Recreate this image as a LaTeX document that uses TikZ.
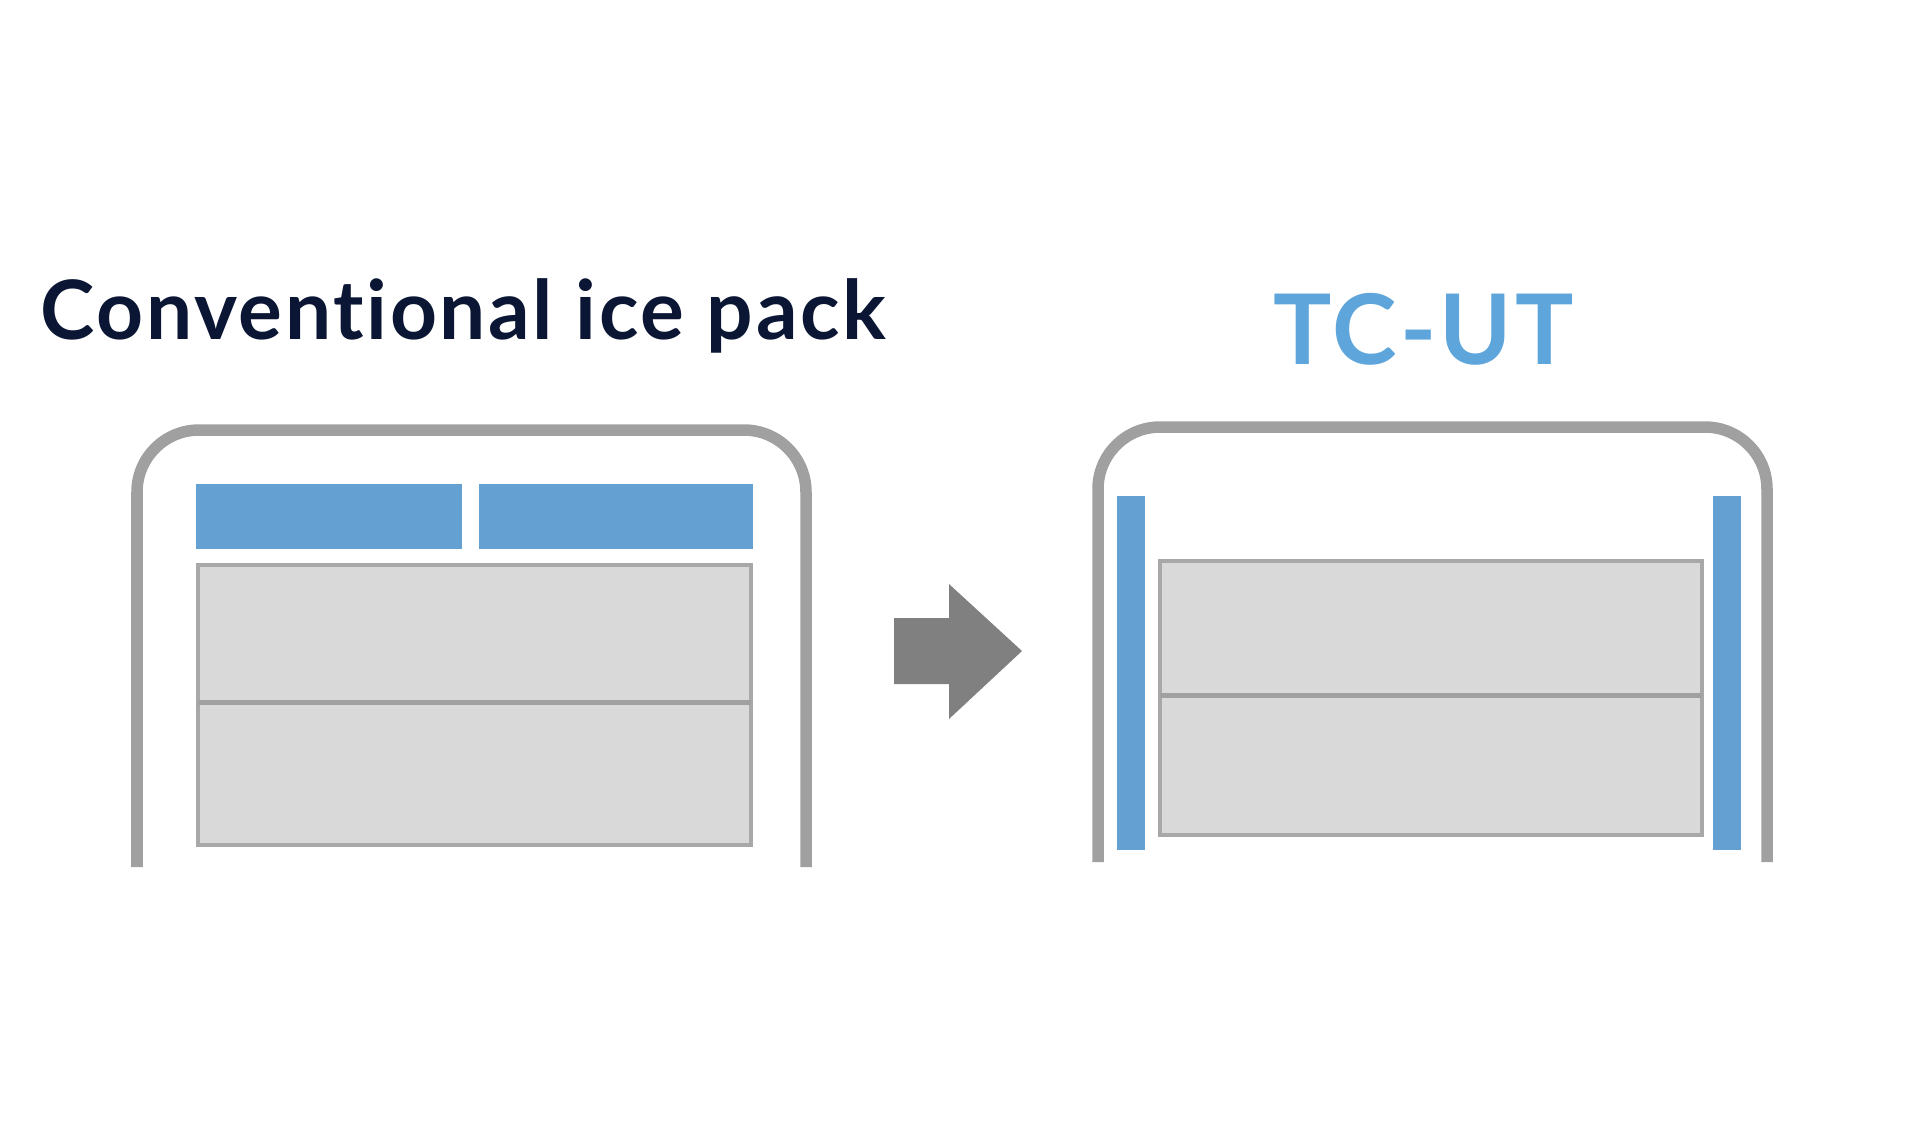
\documentclass[tikz,border=0pt]{standalone}
\usepackage{fontspec}
\setmainfont{Lato}[Ligatures={NoCommon,NoDiscretionary,NoRare}, LetterSpace=3.2]
\definecolor{navy}{HTML}{0A1633}
\definecolor{tcblue}{HTML}{5DA5DA}
\definecolor{packblue}{HTML}{65A0D3}
\definecolor{framegrey}{HTML}{A0A0A0}
\definecolor{boxfill}{HTML}{D9D9D9}
\definecolor{boxedge}{HTML}{A8A8A8}
\definecolor{arrowgrey}{HTML}{808080}
\tikzset{
  frameline/.style={draw=framegrey, line width=0.115cm, rounded corners=0.62cm},
  packbox/.style={fill=packblue, draw=none},
  goodsbox/.style={fill=boxfill, draw=boxedge, line width=0.045cm},
  midline/.style={draw=framegrey, line width=0.05cm},
}
\begin{document}
\begin{tikzpicture}[x=0.01cm,y=-0.01cm]
\useasboundingbox (0,0) rectangle (1920,1120);
% titles
\node[anchor=base west, inner sep=0, text=navy, font=\bfseries\fontsize{23.3}{28}\selectfont] (t1) at (40,339) {Conventional ice pack};
\node[anchor=base west, inner sep=0, text=tcblue, font=\bfseries\fontsize{27.7}{32}\selectfont] (t2) at (1273,364) {TC-UT};
% left container
\draw[frameline] (137,867) -- (137,430) -- (806,430) -- (806,867);
\fill[packblue] (196,484) rectangle (462,549);
\fill[packblue] (479,484) rectangle (753,549);
\draw[goodsbox] (198,565) rectangle (751,845);
\draw[midline] (198,702) -- (751,702);
% arrow
\fill[arrowgrey] (894,618) -- (949,618) -- (949,584) -- (1022,651) -- (949,719) -- (949,684) -- (894,684) -- cycle;
% right container
\draw[frameline] (1098,862) -- (1098,427) -- (1767,427) -- (1767,862);
\fill[packblue] (1117,496) rectangle (1145,850);
\fill[packblue] (1713,496) rectangle (1741,850);
\draw[goodsbox] (1160,561) rectangle (1702,835);
\draw[midline] (1160,695) -- (1702,695);
\end{tikzpicture}
\end{document}
